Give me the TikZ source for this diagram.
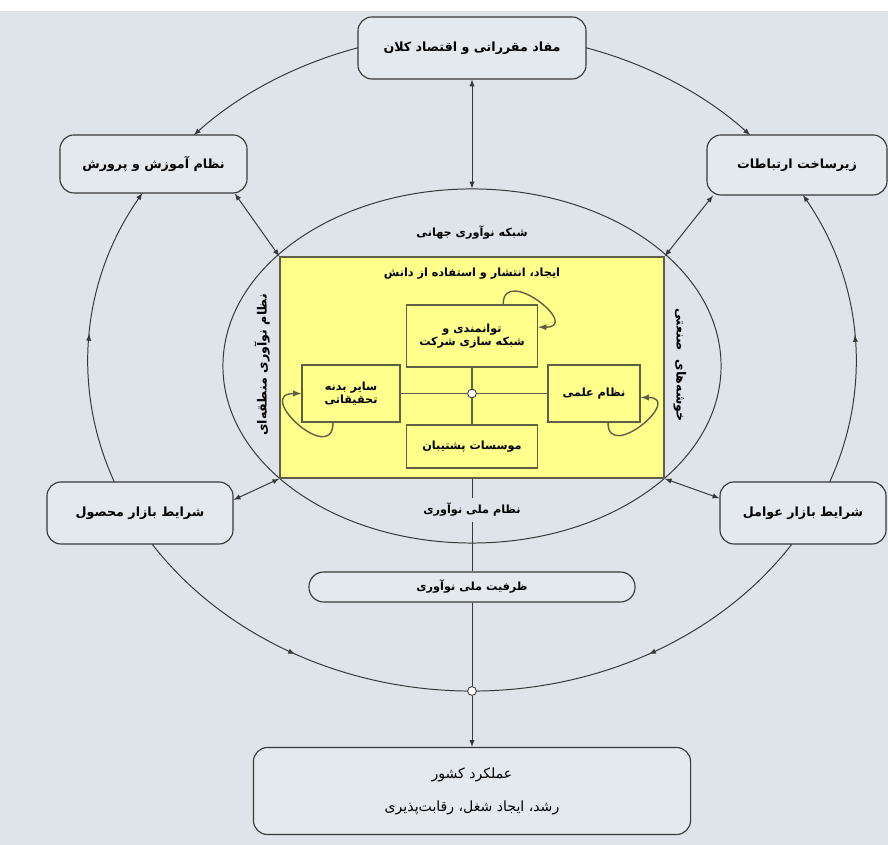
\documentclass[tikz,border=0pt]{standalone}
\usepackage{fontspec}
\newfontfamily\farsi[Script=Arabic]{DejaVu Sans}
\TeXXeTstate=1
\usetikzlibrary{arrows,calc,positioning,shapes.geometric,decorations.markings}
\newcommand{\fa}[1]{\beginR #1\endR}

\definecolor{bgcol}{RGB}{222,228,234}
\definecolor{boxcol}{RGB}{228,233,238}
\definecolor{linecol}{RGB}{55,55,55}
\definecolor{coreyellow}{RGB}{255,255,140}
\definecolor{coreline}{RGB}{95,95,70}

\tikzset{
	ctx/.style={draw=linecol, fill=boxcol, rounded corners=10pt, line width=0.8pt, font=\farsi\bfseries\small, align=center, inner sep=2pt},
	part/.style={draw=coreline, line width=1pt, font=\farsi\bfseries\footnotesize, align=center, inner sep=2pt},
	lbl/.style={font=\farsi\bfseries\footnotesize},
	hub/.style={circle, draw=linecol, fill=white, inner sep=0pt, minimum size=0.22cm, line width=0.6pt},
	link/.style={<->, line width=0.7pt, draw=linecol},
	loop/.style={->, line width=1pt, draw=coreline},
	midarrow/.style={postaction=decorate, decoration={markings, mark=at position 0.5 with {\arrow{latex}}}},
	ring/.style={x radius=9.6cm, y radius=8.225cm}
}

\begin{document}
\begin{tikzpicture}
		[x=0.025cm, y=0.025cm, >=latex]
		\fill[bgcol] (0,0) rectangle (888,834);
		\useasboundingbox (0,0) rectangle (888,845);
		\coordinate (O) at (472,483);
		% outer ring, drawn before the boxes
		\begin{scope}[line width=0.7pt, draw=linecol]
			\draw[->] ($(O)+(106:9.6cm and 8.225cm)$) arc[ring, start angle=106, end angle=136.4];
			\draw[->] ($(O)+(74:9.6cm and 8.225cm)$) arc[ring, start angle=74, end angle=43.6];
			\draw[->, midarrow] ($(O)+(201.4:9.6cm and 8.225cm)$) arc[ring, start angle=201.4, end angle=149.1];
			\draw[->, midarrow] ($(O)+(-21.4:9.6cm and 8.225cm)$) arc[ring, start angle=-21.4, end angle=30.5];
			\draw[midarrow] ($(O)+(213.6:9.6cm and 8.225cm)$) arc[ring, start angle=213.6, end angle=270];
			\draw[midarrow] ($(O)+(-33.6:9.6cm and 8.225cm)$) arc[ring, start angle=-33.6, end angle=-90];
		\end{scope}
		% inner ellipse and core
		\node[draw=linecol, ellipse, line width=0.7pt, minimum width=12.45cm, minimum height=8.85cm, inner sep=0pt] (nis) at (472,479) {};
		\node[draw=coreline, fill=coreyellow, line width=1pt, minimum width=9.6cm, minimum height=5.525cm, inner sep=0pt] (core) at (472,477.5) {};
		\node[lbl] (know) at (472,571) {\fa{ایجاد،  انتشار و استفاده از دانش}};
		\node[part, minimum width=3.275cm, minimum height=1.55cm] (firm) at (472,509) {\fa{توانمندی و}\\\fa{شبکه سازی شرکت}};
		\node[part, minimum width=2.45cm, minimum height=1.425cm] (res) at (351,451.5) {\fa{سایر بدنه}\\\fa{تحقیقاتی}};
		\node[part, minimum width=2.3cm, minimum height=1.425cm] (sci) at (594,451.5) {\fa{نظام علمی}};
		\node[part, minimum width=3.275cm, minimum height=1.075cm] (supp) at (472,398.5) {\fa{موسسات پشتیبان}};
		\node[hub] (hubc) at (472,451.5) {};
		\draw[line width=1pt, coreline] (firm) -- (hubc) -- (supp);
		\draw[line width=1pt, coreline] (res) -- (hubc) -- (sci);
		\draw[loop] ([xshift=0.78cm]firm.north) .. controls +(0,1cm) and +(1.1cm,0) .. ([yshift=0.22cm]firm.east);
		\draw[loop] ([xshift=-0.45cm]res.south) .. controls +(0,-1.1cm) and +(-1.2cm,0) .. (res.west);
		\draw[loop] ([xshift=0.35cm]sci.south) .. controls +(0,-1cm) and +(1.1cm,0) .. ([yshift=-0.1cm]sci.east);
		% labels of the rings
		\node[lbl] (glob) at (472,612) {\fa{شبکه نوآوری جهانی}};
		\node[lbl, font=\farsi\bfseries\small, rotate=90] (reg) at (262,480) {\fa{نظام نوآوری منطقه‌ای}};
		\node[lbl, font=\farsi\bfseries\small, rotate=-90] (clus) at (680,480) {\fa{خوشه‌های\ \ صنعتی}};
		\node[lbl] (nat) at (472,335) {\fa{نظام ملی نوآوری}};
		% context boxes
		\node[ctx, minimum width=5.7cm, minimum height=1.55cm] (macro) at (472,797) {\fa{مفاد مقرراتی و اقتصاد کلان}};
		\node[ctx, minimum width=4.675cm, minimum height=1.45cm] (edu) at (153.5,681) {\fa{نظام آموزش و پرورش}};
		\node[ctx, minimum width=4.5cm, minimum height=1.5cm] (infra) at (797,680) {\fa{زیرساخت ارتباطات}};
		\node[ctx, minimum width=4.65cm, minimum height=1.55cm] (prod) at (140,332) {\fa{شرایط بازار محصول}};
		\node[ctx, minimum width=4.15cm, minimum height=1.55cm] (fact) at (803,332) {\fa{شرایط بازار عوامل}};
		\node[ctx, rounded corners=0.37cm, minimum width=8.15cm, minimum height=0.75cm, inner sep=0pt, font=\farsi\bfseries\footnotesize] (cap) at (472,258) {\fa{ظرفیت ملی نوآوری}};
		\node[ctx, font=\farsi, minimum width=10.925cm, minimum height=2.175cm] (perf) at (472,54) {\fa{عملکرد کشور}\\[0.4cm]\fa{رشد، ایجاد شغل، رقابت‌پذیری}};
		\node[hub] (hubb) at (472,154) {};
		% connectors
		\draw[link] (macro) -- (nis.north);
		\draw[link] (core.north west) -- (edu.-20);
		\draw[link] (core.north east) -- (infra.200);
		\draw[link] (core.south west) -- (prod.8);
		\draw[link] (core.south east) -- (fact.170);
		\draw[line width=0.7pt, linecol] (core.south) -- (nat.north);
		\draw[line width=0.7pt, linecol] (nat.south) -- (cap.north);
		\draw[line width=0.7pt, linecol] (cap) -- (hubb);
		\draw[->, line width=0.7pt, linecol] (hubb) -- (perf);
	\end{tikzpicture}
\end{document}
